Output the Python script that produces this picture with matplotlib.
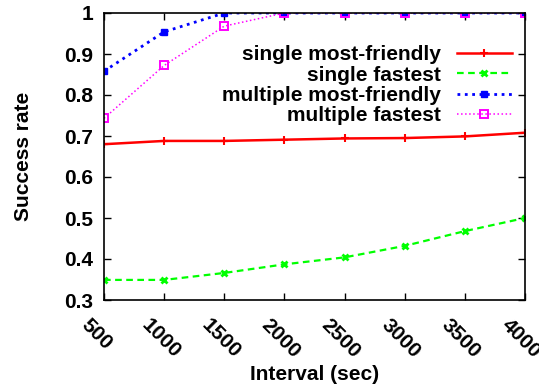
import matplotlib
matplotlib.use("Agg")
import matplotlib.pyplot as plt
from matplotlib.transforms import ScaledTranslation

plt.rcParams["font.family"] = ["Liberation Sans", "DejaVu Sans"]
plt.rcParams["font.weight"] = "bold"

intervals = [500, 1000, 1500, 2000, 2500, 3000, 3500, 4000]
single_friendly = [0.680, 0.688, 0.688, 0.691, 0.694, 0.695, 0.699, 0.708]
single_fastest = [0.349, 0.349, 0.366, 0.387, 0.404, 0.432, 0.468, 0.500]
multi_friendly = [0.858, 0.954, 1.0, 1.0, 1.0, 1.0, 1.0, 1.0]
multi_fastest = [0.743, 0.872, 0.968, 1.0, 1.0, 1.0, 1.0, 1.0]

yticks = [0.3, 0.4, 0.5, 0.6, 0.7, 0.8, 0.9, 1.0]
ytick_labels = ["0.3", "0.4", "0.5", "0.6", "0.7", "0.8", "0.9", "1"]

FS = 15

fig = plt.figure(figsize=(5.39, 3.91), dpi=100)
ax = fig.add_axes([104 / 539, 1 - 300 / 391, 421 / 539, 287 / 391])

ax.plot(intervals, single_friendly, "-", color="#ff0000", lw=1.8,
        marker="+", ms=6, mew=1.5, label="single most-friendly")
ax.plot(intervals, single_fastest, "--", color="#00ff00", lw=1.6, dashes=(3, 2),
        marker="x", ms=5, mew=2.0, label="single fastest")
ax.plot(intervals, multi_friendly, ":", color="#0000ff", lw=2.0,
        marker="s", ms=5, label="multiple most-friendly")
ax.plot(intervals, multi_fastest, ":", color="#ff00ff", lw=1.1,
        marker="s", ms=6, mfc="none", mew=1.4, label="multiple fastest")

ax.set_xlim(500, 4000)
ax.set_ylim(0.3, 1.0)
ax.set_xticks(intervals)
ax.set_xticklabels([str(v) for v in intervals], rotation=-45, ha="left",
                   va="center", rotation_mode="anchor", fontsize=FS)
ax.set_yticks(yticks)
ax.set_yticklabels(ytick_labels, fontsize=FS)
ax.tick_params(direction="in", top=True, right=True, length=5, width=1)
ax.tick_params(axis="y", pad=8)
ax.tick_params(axis="x", pad=16)
shift = ScaledTranslation(-0.20, 0, fig.dpi_scale_trans)
for lab in ax.get_xticklabels():
    lab.set_transform(lab.get_transform() + shift)
for s in ax.spines.values():
    s.set_linewidth(1.2)

ax.set_xlabel("Interval (sec)", fontsize=FS, fontweight="bold", labelpad=2)
ax.set_ylabel("Success rate", fontsize=FS, fontweight="bold", labelpad=22)

ax.legend(loc="upper right", bbox_to_anchor=(0.968, 0.887), frameon=False,
          markerfirst=False, fontsize=FS, handlelength=2.6, handletextpad=0.8,
          labelspacing=0.06, borderaxespad=0, borderpad=0)

fig.savefig("out.png", dpi=100)
